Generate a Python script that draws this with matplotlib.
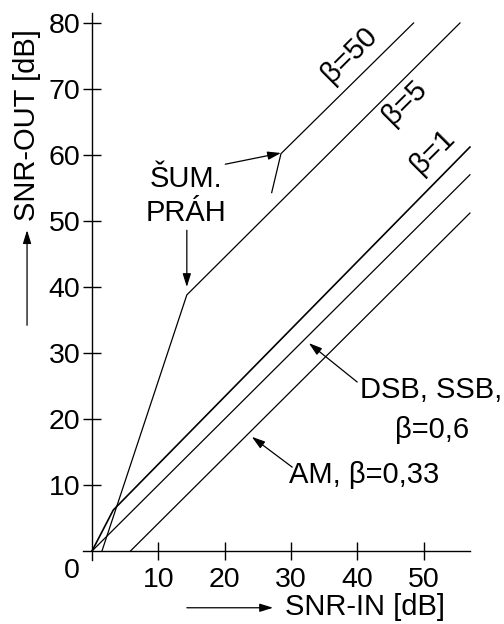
import matplotlib.pyplot as plt
import numpy as np

plt.rcParams['font.family'] = ['Liberation Sans', 'DejaVu Sans']

# Characteristic lines SNR-OUT vs SNR-IN (dB), knees
beta50_x = [27.1, 28.5, 48.5]
beta50_y = [54.3, 60.2, 80.0]
beta5_x = [1.5, 14.3, 55.5]
beta5_y = [0.0, 38.8, 80.0]
beta1_x = [0.0, 3.2, 57.0]
beta1_y = [0.0, 6.2, 61.2]
dsb_x = [0.0, 57.0]
dsb_y = [0.0, 57.0]
am_x = [5.8, 57.0]
am_y = [0.0, 51.2]

x_ticks = [10, 20, 30, 40, 50]
y_ticks = [10, 20, 30, 40, 50, 60, 70, 80]

fig = plt.figure(figsize=(5.04, 6.24), dpi=100)
ax = fig.add_axes([0, 0, 1, 1])
ax.set_xlim(-13.88, 62.14)
ax.set_ylim(-11.06, 83.48)

# axes crossing at the origin
ax.spines['left'].set_position(('data', 0))
ax.spines['bottom'].set_position(('data', 0))
ax.spines['left'].set_bounds(-1.4, 81.5)
ax.spines['bottom'].set_bounds(-1.4, 57.0)
ax.spines['top'].set_visible(False)
ax.spines['right'].set_visible(False)
for s in ('left', 'bottom'):
    ax.spines[s].set_linewidth(1.0)

ax.set_xticks(x_ticks)
ax.set_yticks(y_ticks)
ax.tick_params(direction='inout', length=13, width=1.0, labelsize=20.5)
ax.tick_params(axis='y', pad=2)
ax.tick_params(axis='x', pad=5)
ax.text(-3.0, -3.0, '0', fontsize=20.5, ha='center', va='center')

lw = 0.9
ax.plot(beta50_x, beta50_y, color='black', lw=lw)
ax.plot(beta5_x, beta5_y, color='black', lw=lw)
ax.plot(beta1_x, beta1_y, color='black', lw=1.2)
ax.plot(dsb_x, dsb_y, color='black', lw=lw)
ax.plot(am_x, am_y, color='black', lw=lw)

fs = 21
ax.text(38.9, 75.2, 'β=50', fontsize=fs, rotation=45, ha='center', va='center')
ax.text(47.2, 67.9, 'β=5', fontsize=fs, rotation=45, ha='center', va='center')
ax.text(51.4, 60.5, 'β=1', fontsize=fs, rotation=45, ha='center', va='center')

arr = dict(arrowstyle='-|>,head_length=0.8,head_width=0.25', color='black',
           lw=0.9, mutation_scale=10, shrinkA=0, shrinkB=0)

# threshold labels
ax.text(14.2, 53.8, 'ŠUM.\nPRÁH', fontsize=fs, ha='center', va='center',
        linespacing=1.25)
ax.annotate('', xy=(14.3, 40.0), xytext=(14.3, 48.6), arrowprops=arr)
ax.annotate('', xy=(28.5, 60.3), xytext=(20.1, 58.6), arrowprops=arr)

ax.text(40.4, 24.4, 'DSB, SSB,', fontsize=fs, ha='left', va='center')
ax.text(51.3, 18.3, 'β=0,6', fontsize=fs, ha='center', va='center')
ax.annotate('', xy=(32.7, 31.5), xytext=(40.0, 25.6), arrowprops=arr)

ax.text(29.7, 11.5, 'AM, β=0,33', fontsize=fs, ha='left', va='center')
ax.annotate('', xy=(24.1, 17.3), xytext=(30.2, 12.7), arrowprops=arr)

# axis titles with arrows
ax.text(29.1, -8.5, 'SNR-IN [dB]', fontsize=fs, ha='left', va='center')
ax.annotate('', xy=(27.3, -8.6), xytext=(14.3, -8.6), arrowprops=arr)
ax.text(-9.8, 64.5, 'SNR-OUT [dB]', fontsize=fs, rotation=90,
        ha='center', va='center')
ax.annotate('', xy=(-9.8, 48.6), xytext=(-9.8, 34.2), arrowprops=arr)

fig.savefig('out.png', dpi=100)
